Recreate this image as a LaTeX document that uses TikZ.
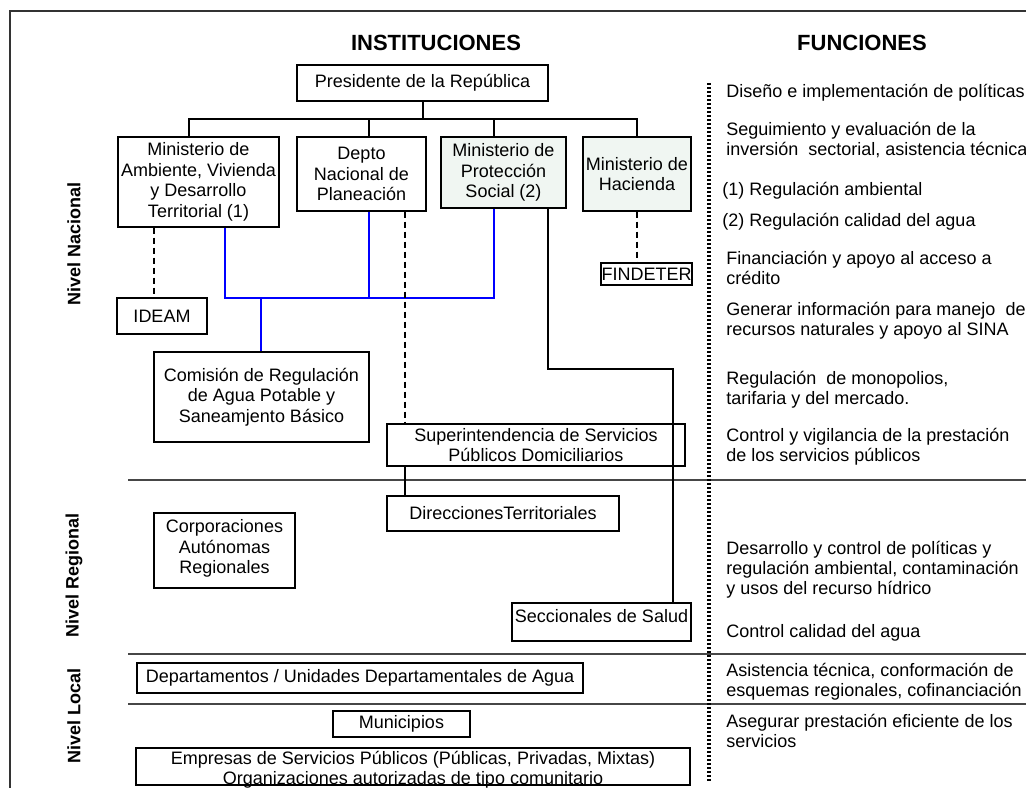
\documentclass[tikz,border=0pt]{standalone}
\usepackage{fontspec}
\setmainfont{Liberation Sans}
\usepackage{tikz}
\definecolor{tinte}{RGB}{240,246,242}
\definecolor{sepgris}{RGB}{70,70,70}

\tikzset{
  caja/.style={draw, line width=0.6pt, fill=white, align=center, inner sep=1pt,
    font=\fontsize{9}{10.3}\selectfont},
  func/.style={anchor=west, align=left, inner sep=0pt, font=\fontsize{9}{10}\selectfont},
  nivel/.style={rotate=90, font=\fontsize{9}{10}\selectfont\bfseries},
  titulo/.style={font=\fontsize{11}{12}\selectfont\bfseries},
  azul/.style={blue, line width=0.6pt},
  enlace/.style={line width=0.6pt},
  punteado/.style={line width=0.6pt, dash pattern=on 3pt off 2pt},
  franja/.style={sepgris, line width=1.4pt},
}

\begin{document}
\begin{tikzpicture}[x=0.5pt, y=-0.5pt]
    \useasboundingbox (0,0) rectangle (1026,787);
    \clip (0,0) rectangle (1026,787);
    \fill[white] (0,0) rectangle (1026,787);

    % Marco
    \draw[line width=0.8pt, black!80] (10,795) -- (10,11) -- (1030,11);

    % Titulos
    \node[titulo] (tinst) at (436,43) {INSTITUCIONES};
    \node[titulo] (tfunc) at (862,43) {FUNCIONES};

    % Niveles
    \node[nivel] (nnac) at (74,244) {Nivel Nacional};
    \node[nivel] (nreg) at (74,575) {Nivel Regional};
    \node[nivel] (nloc) at (74,716) {Nivel Local};

    % Separadores
    \draw[franja] (128,480) -- (1030,480);
    \draw[franja] (128,654) -- (1030,654);
    \draw[franja] (128,704) -- (1030,704);
    \draw[line width=1.6pt, dash pattern=on 1.1pt off 0.9pt] (709,83) -- (709,782);

    % Instituciones nacionales
    \node[caja, minimum width=125.5pt, minimum height=18pt] (pres) at (422.5,83) {Presidente de la República};
    \node[caja, minimum width=80.5pt, minimum height=45pt] (mavdt) at (198.5,182)
        {Ministerio de\\Ambiente, Vivienda\\y Desarrollo\\Territorial (1)};
    \node[caja, minimum width=64.5pt, minimum height=37pt] (dnp) at (361.5,174)
        {Depto\\Nacional de\\Planeación};
    \node[caja, fill=tinte, minimum width=62.5pt, minimum height=35.5pt] (mps) at (503.5,172.5)
        {Ministerio de\\Protección\\Social (2)};
    \node[caja, fill=tinte, minimum width=54pt, minimum height=37pt] (mhc) at (637,174)
        {Ministerio de\\Hacienda};
    \node[caja, minimum width=45pt, minimum height=18pt] (ideam) at (162,316) {IDEAM};
    \node[caja, inner sep=0pt, minimum width=45.5pt, minimum height=11pt] (findeter) at (646.5,274) {FINDETER};
    \node[caja, minimum width=107.5pt, minimum height=45pt] (cra) at (261.5,397)
        {Comisión de Regulación\\de Agua Potable y\\Saneamjento Básico};
    \node[caja, minimum width=149pt, minimum height=21pt] (ssp) at (536,445)
        {Superintendencia de Servicios\\Públicos Domiciliarios};

    % Instituciones regionales
    \node[caja, minimum width=116pt, minimum height=17.5pt] (dirt) at (503,513.5) {DireccionesTerritoriales};
    \node[caja, minimum width=70.5pt, minimum height=37.5pt, text depth=4pt] (car) at (224.5,550.5)
        {Corporaciones\\Autónomas\\Regionales};
    \node[caja, minimum width=89.5pt, minimum height=19pt, text height=6.5pt, text depth=6pt] (sec) at (601.5,622)
        {Seccionales de Salud};

    % Instituciones locales
    \node[caja, minimum width=223pt, minimum height=15pt] (dep) at (360,678)
        {Departamentos / Unidades Departamentales de Agua};
    \node[caja, minimum width=68.5pt, minimum height=13pt] (mun) at (401.5,724) {Municipios};
    \node[caja, inner sep=0pt, minimum width=277pt, minimum height=0pt, text height=18pt, text depth=0.5pt,
        font=\fontsize{9}{10}\selectfont] (esp) at (413,766.5)
        {Empresas de Servicios Públicos (Públicas, Privadas, Mixtas)\\Organizaciones autorizadas de tipo comunitario};

    % Arbol desde la Presidencia
    \coordinate (bus) at (423,119);
    \draw[enlace] (pres.south -| bus) -- (bus);
    \draw[enlace] (mavdt.north -| 189,0) |- (bus);
    \draw[enlace] (dnp.north -| 369,0) -- (369,119);
    \draw[enlace] (mps.north -| 494,0) -- (494,119);
    \draw[enlace] (mhc.north) |- (bus);

    % Enlaces azules hacia la CRA
    \coordinate (jcra) at (261,298);
    \draw[azul] (mavdt.south -| 225,0) -- (225,298) -- (494,298) -- (mps.south -| 494,0);
    \draw[azul] (dnp.south -| 369,0) -- (369,298);
    \draw[azul] (jcra) -- (cra.north -| jcra);

    % Enlaces punteados
    \draw[punteado] (mavdt.south -| 154,0) -- (ideam.north -| 154,0);
    \draw[punteado] (dnp.south -| 405,0) -- (ssp.north -| 405,0);
    \draw[punteado] (mhc.south) -- (mhc.south |- findeter.north);

    % Enlaces negros
    \draw[enlace] (ssp.south -| 405,0) -- (dirt.north -| 405,0);
    \draw[enlace] (mps.south -| 548,0) -- (548,369) -- (673,369) -- (sec.north -| 673,0);

    % Funciones
    \node[func] (f1) at (726,93) {Diseño e implementación de políticas};
    \node[func] (f2) at (726,140) {Seguimiento y evaluación de la\\inversión\ \ sectorial, asistencia técnica};
    \node[func] (f3) at (722,191) {(1) Regulación ambiental};
    \node[func] (f4) at (722,222) {(2) Regulación calidad del agua};
    \node[func] (f5) at (726,268) {Financiación y apoyo al acceso a\\crédito};
    \node[func] (f6) at (726,321) {Generar información para manejo\ \ de\\recursos naturales y apoyo al SINA};
    \node[func] (f7) at (726,390) {Regulación\ \ de monopolios,\\tarifaria y del mercado.};
    \node[func] (f8) at (726,447) {Control y vigilancia de la prestación\\de los servicios públicos};
    \node[func] (f9) at (726,570) {Desarrollo y control de políticas y\\regulación ambiental, contaminación\\y usos del recurso hídrico};
    \node[func] (f10) at (726,633) {Control calidad del agua};
    \node[func] (f11) at (726,682) {Asistencia técnica, conformación de\\esquemas regionales, cofinanciación};
    \node[func] (f12) at (726,731) {Asegurar prestación eficiente de los\\servicios};
\end{tikzpicture}
\end{document}
